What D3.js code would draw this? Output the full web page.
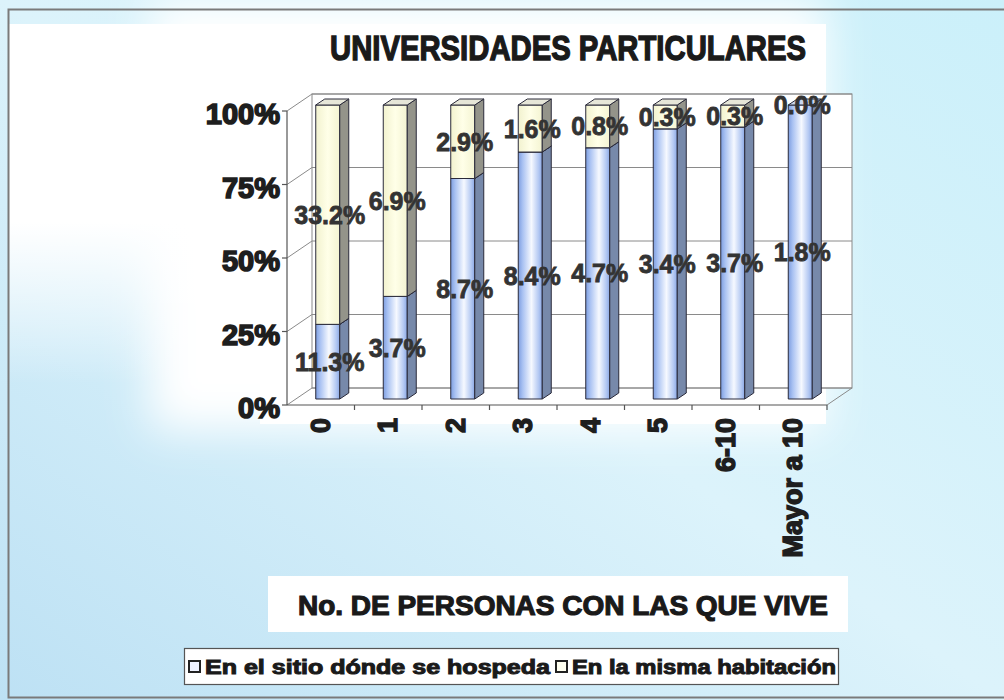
<!DOCTYPE html>
<html>
<head>
<meta charset="utf-8">
<script src="https://cdn.jsdelivr.net/npm/d3@7"></script>
<style>
  body { margin: 0; background: #fff; }
  svg text { font-family: "Liberation Sans", Arial, sans-serif; font-weight: bold; }
</style>
</head>
<body>
<div class="container"></div>
<script>
var categories = ['0', '1', '2', '3', '4', '5', '6-10', 'Mayor a 10'];
var seriesNames = ['En el sitio dónde se hospeda', 'En la misma habitación'];
var hospeda = [11.3, 3.7, 8.7, 8.4, 4.7, 3.4, 3.7, 1.8];
var habitacion = [33.2, 6.9, 2.9, 1.6, 0.8, 0.3, 0.3, 0.0];
var yTicks = [0, 0.25, 0.5, 0.75, 1];

const WIDTH = 1004;
const HEIGHT = 700;
const X0 = 287, X1 = 827;
const Y0 = 405, Y1 = 111;
const DEPTH = {x: 25, y: -17};
const BAR_W = 24;
const BAR_OFF = {x: 7, y: -6};
const BAR_D = {x: 9, y: -6};

var rows = categories.map(function (c, i) {
    return {cat: c, hospeda: hospeda[i], habitacion: habitacion[i]};
});
var keys = ['hospeda', 'habitacion'];
var labelsOf = {hospeda: hospeda, habitacion: habitacion};

var stacked = d3.stack().keys(keys).offset(d3.stackOffsetExpand)(rows);

var svg = d3.select('.container').append('svg')
    .attr('width', WIDTH)
    .attr('height', HEIGHT);

var defs = svg.append('defs');

var bg = defs.append('linearGradient').attr('id', 'bg')
    .attr('x1', 0).attr('y1', 1).attr('x2', 1).attr('y2', 0);
bg.append('stop').attr('offset', 0).attr('stop-color', '#bde1f4');
bg.append('stop').attr('offset', 0.5).attr('stop-color', '#dcf3fb');
bg.append('stop').attr('offset', 1).attr('stop-color', '#cbf0fa');

var fade = defs.append('linearGradient').attr('id', 'fade')
    .attr('x1', 0).attr('y1', 0).attr('x2', 0).attr('y2', 1);
fade.append('stop').attr('offset', 0).attr('stop-color', '#fff').attr('stop-opacity', 1);
fade.append('stop').attr('offset', 0.55).attr('stop-color', '#fff').attr('stop-opacity', 1);
fade.append('stop').attr('offset', 1).attr('stop-color', '#fff').attr('stop-opacity', 0);

defs.append('filter').attr('id', 'soft')
    .attr('x', -0.3).attr('y', -0.3).attr('width', 1.6).attr('height', 1.6)
    .append('feGaussianBlur').attr('stdDeviation', 22);

var blueFront = defs.append('linearGradient').attr('id', 'blueFront');
[[0, '#7e9ee0'], [0.18, '#a8c1f2'], [0.55, '#f6f9ff'], [0.85, '#b3c8f2'], [1, '#8aa7e4']].forEach(function (s) {
    blueFront.append('stop').attr('offset', s[0]).attr('stop-color', s[1]);
});
var creamFront = defs.append('linearGradient').attr('id', 'creamFront');
[[0, '#f2f2cf'], [0.5, '#ffffe8'], [1, '#f4f4d2']].forEach(function (s) {
    creamFront.append('stop').attr('offset', s[0]).attr('stop-color', s[1]);
});

var faceColors = {
    hospeda: {front: 'url(#blueFront)', side: '#7789aa', top: '#c9d6f0'},
    habitacion: {front: 'url(#creamFront)', side: '#94948a', top: '#e6e6d8'}
};

// background
svg.append('rect').attr('width', WIDTH).attr('height', HEIGHT).attr('fill', 'url(#bg)');
svg.append('rect')
    .attr('x', 150).attr('y', 0).attr('width', 676).attr('height', 430)
    .attr('fill', '#ffffff').attr('filter', 'url(#soft)');
svg.append('rect')
    .attr('x', 8).attr('y', 24).attr('width', 818).attr('height', 360)
    .attr('fill', 'url(#fade)');
svg.append('rect')
    .attr('x', 260).attr('y', 26).attr('width', 566).attr('height', 398)
    .attr('fill', '#ffffff');
svg.append('rect')
    .attr('x', 268).attr('y', 576).attr('width', 580).attr('height', 56)
    .attr('fill', '#ffffff');
svg.append('rect')
    .attr('x', 8.5).attr('y', 9.5).attr('width', 1000).attr('height', 688)
    .attr('fill', 'none').attr('stroke', '#7a7a7a').attr('stroke-width', 2);

var xScale = d3.scaleBand()
    .domain(categories)
    .range([X0, X1]);

var yScale = d3.scaleLinear()
    .domain([0, 1])
    .range([Y0, Y1]);

var walls = svg.append('g').attr('stroke', '#8a8a8a').attr('stroke-width', 1).attr('fill', 'none');

walls.append('rect')
    .attr('x', X0 + DEPTH.x).attr('y', Y1 + DEPTH.y)
    .attr('width', X1 - X0).attr('height', Y0 - Y1)
    .attr('fill', '#ffffff');

walls.selectAll('line.grid')
    .data(yTicks)
    .enter().append('line')
    .attr('class', 'grid')
    .attr('x1', X0 + DEPTH.x).attr('x2', X1 + DEPTH.x)
    .attr('y1', function (d) { return yScale(d) + DEPTH.y; })
    .attr('y2', function (d) { return yScale(d) + DEPTH.y; });

walls.selectAll('line.diag')
    .data(yTicks)
    .enter().append('line')
    .attr('class', 'diag')
    .attr('x1', X0).attr('x2', X0 + DEPTH.x)
    .attr('y1', function (d) { return yScale(d); })
    .attr('y2', function (d) { return yScale(d) + DEPTH.y; });

walls.append('line')
    .attr('x1', X1).attr('y1', Y0)
    .attr('x2', X1 + DEPTH.x).attr('y2', Y0 + DEPTH.y);

// front axes
var axes = svg.append('g').attr('stroke', '#555').attr('stroke-width', 1.2);
axes.append('line').attr('x1', X0).attr('x2', X0).attr('y1', Y1).attr('y2', Y0);
axes.append('line').attr('x1', X0).attr('x2', X1).attr('y1', Y0).attr('y2', Y0);
axes.selectAll('line.ytick')
    .data(yTicks)
    .enter().append('line')
    .attr('x1', X0 - 5).attr('x2', X0)
    .attr('y1', function (d) { return yScale(d); })
    .attr('y2', function (d) { return yScale(d); });
axes.selectAll('line.xtick')
    .data(categories.slice(1).concat(['end']))
    .enter().append('line')
    .attr('x1', function (d) { return d == 'end' ? X1 : xScale(d); })
    .attr('x2', function (d) { return d == 'end' ? X1 : xScale(d); })
    .attr('y1', Y0).attr('y2', Y0 + 5);

svg.selectAll('text.ylab')
    .data(yTicks)
    .enter().append('text')
    .attr('class', 'ylab')
    .attr('x', X0 - 7)
    .attr('y', function (d) { return yScale(d) + 3; })
    .attr('text-anchor', 'end')
    .attr('dominant-baseline', 'central')
    .attr('font-size', 29)
    .attr('fill', '#1e1e1e').attr('stroke', '#1e1e1e').attr('stroke-width', 1.6)
    .text(function (d) { return Math.round(d * 100) + '%'; });

svg.selectAll('text.xlab')
    .data(categories)
    .enter().append('text')
    .attr('class', 'xlab')
    .attr('transform', function (d) {
        return 'translate(' + (xScale(d) + xScale.bandwidth() / 2) + ',' + (Y0 + 13) + ') rotate(-90)';
    })
    .attr('text-anchor', 'end')
    .attr('dominant-baseline', 'central')
    .attr('font-size', 27)
    .attr('fill', '#1e1e1e').attr('stroke', '#1e1e1e').attr('stroke-width', 1.4)
    .text(function (d) { return d; });

// bars
var frontX = function (cat) {
    return xScale(cat) + xScale.bandwidth() / 2 - BAR_W / 2 + BAR_OFF.x;
};

var bars = svg.append('g').attr('stroke', '#2a2a3a').attr('stroke-width', 1).attr('stroke-linejoin', 'round');

stacked.forEach(function (layer) {
    var colors = faceColors[layer.key];
    layer.forEach(function (seg, i) {
        var cat = categories[i];
        var x = frontX(cat);
        var yTop = yScale(seg[1]) + BAR_OFF.y;
        var yBot = yScale(seg[0]) + BAR_OFF.y;
        if (yBot - yTop < 0.5) return;
        var g = bars.append('g');
        g.append('rect')
            .attr('x', x).attr('y', yTop)
            .attr('width', BAR_W).attr('height', yBot - yTop)
            .attr('fill', colors.front);
        g.append('polygon')
            .attr('points', [
                [x + BAR_W, yTop], [x + BAR_W + BAR_D.x, yTop + BAR_D.y],
                [x + BAR_W + BAR_D.x, yBot + BAR_D.y], [x + BAR_W, yBot]
            ].join(' '))
            .attr('fill', colors.side);
        g.append('polygon')
            .attr('points', [
                [x, yTop], [x + BAR_D.x, yTop + BAR_D.y],
                [x + BAR_W + BAR_D.x, yTop + BAR_D.y], [x + BAR_W, yTop]
            ].join(' '))
            .attr('fill', colors.top);
    });
});

// data labels
stacked.forEach(function (layer) {
    svg.selectAll('text.val-' + layer.key)
        .data(layer)
        .enter().append('text')
        .attr('class', 'val-' + layer.key)
        .attr('x', function (d, i) { return frontX(categories[i]) + BAR_W / 2 + 2; })
        .attr('y', function (d) { return yScale((d[0] + d[1]) / 2) + BAR_OFF.y; })
        .attr('text-anchor', 'middle')
        .attr('dominant-baseline', 'central')
        .attr('font-size', 25)
        .attr('fill', '#333').attr('stroke', '#333').attr('stroke-width', 0.8)
        .text(function (d, i) { return labelsOf[layer.key][i].toFixed(1) + '%'; });
});

// titles
svg.append('text')
    .attr('x', 568).attr('y', 47)
    .attr('text-anchor', 'middle').attr('dominant-baseline', 'central')
    .attr('font-size', 35)
    .attr('textLength', 476).attr('lengthAdjust', 'spacingAndGlyphs')
    .attr('fill', '#1a1a1a').attr('stroke', '#1a1a1a').attr('stroke-width', 1.4)
    .text('UNIVERSIDADES PARTICULARES');

svg.append('text')
    .attr('x', 563).attr('y', 605)
    .attr('text-anchor', 'middle').attr('dominant-baseline', 'central')
    .attr('font-size', 28)
    .attr('textLength', 530).attr('lengthAdjust', 'spacingAndGlyphs')
    .attr('fill', '#1a1a1a').attr('stroke', '#1a1a1a').attr('stroke-width', 1.2)
    .text('No. DE PERSONAS CON LAS QUE VIVE');

// legend
var legend = svg.append('g');
legend.append('rect')
    .attr('x', 184.5).attr('y', 648.5).attr('width', 654).attr('height', 36)
    .attr('fill', '#ffffff').attr('stroke', '#555').attr('stroke-width', 1.2);

var legendItems = [
    {name: seriesNames[0], x: 189, w: 345, fill: '#eef2ff'},
    {name: seriesNames[1], x: 556, w: 264, fill: '#fffff0'}
];
legend.selectAll('rect.mark')
    .data(legendItems)
    .enter().append('rect')
    .attr('class', 'mark')
    .attr('x', function (d) { return d.x; })
    .attr('y', 661).attr('width', 11).attr('height', 11)
    .attr('fill', function (d) { return d.fill; })
    .attr('stroke', '#222').attr('stroke-width', 2);
legend.selectAll('text')
    .data(legendItems)
    .enter().append('text')
    .attr('x', function (d) { return d.x + 16; })
    .attr('y', 667)
    .attr('dominant-baseline', 'central')
    .attr('font-size', 20)
    .attr('textLength', function (d) { return d.w; })
    .attr('lengthAdjust', 'spacingAndGlyphs')
    .attr('fill', '#1a1a1a').attr('stroke', '#1a1a1a').attr('stroke-width', 1)
    .text(function (d) { return d.name; });
</script>
</body>
</html>
